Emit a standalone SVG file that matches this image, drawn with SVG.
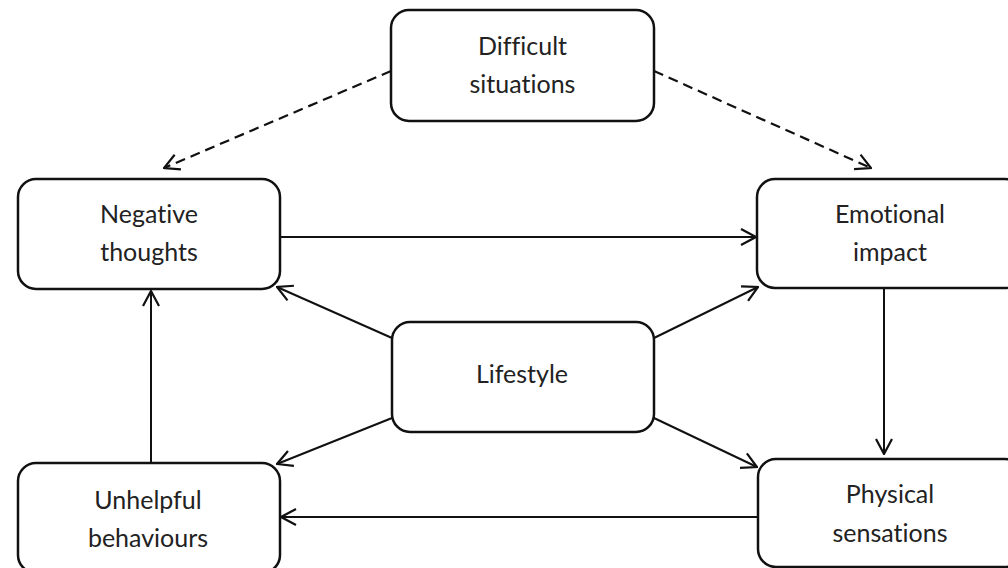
<svg xmlns="http://www.w3.org/2000/svg" width="1008" height="568" viewBox="0 0 1008 568">
<style>
.box{fill:#fff;stroke:#111;stroke-width:2.5}
.lbl{font-family:Lato,"Liberation Sans",sans-serif;font-size:25px;fill:#222;text-anchor:middle;font-variant-ligatures:none;font-feature-settings:"liga" 0,"dlig" 0}
.edge{stroke:#111;stroke-width:2;fill:none;marker-end:url(#ah)}
.dash{stroke-dasharray:10 6;stroke-width:2.2}
</style>
<defs>
<marker id="ah" viewBox="0 0 20 20" refX="19" refY="10" markerWidth="20" markerHeight="20" markerUnits="userSpaceOnUse" orient="auto">
<path d="M4,2 L19,10 L4,18" fill="none" stroke="#111" stroke-width="2.2"/>
</marker>
</defs>
<rect width="1008" height="568" fill="#fff"/>
<g id="connectors">
<line class="edge dash" x1="391" y1="71" x2="164" y2="168"/>
<line class="edge dash" x1="654" y1="71" x2="871" y2="168"/>
<line class="edge" x1="280" y1="237" x2="756" y2="237"/>
<line class="edge" x1="392" y1="338" x2="277" y2="287"/>
<line class="edge" x1="654" y1="338" x2="758" y2="287"/>
<line class="edge" x1="392" y1="418" x2="277" y2="464"/>
<line class="edge" x1="654" y1="418" x2="757" y2="467"/>
<line class="edge" x1="884" y1="288" x2="884" y2="454"/>
<line class="edge" x1="758" y1="517" x2="281" y2="517"/>
<line class="edge" x1="151" y1="463" x2="151" y2="291"/>
</g>
<g id="difficult">
<rect class="box" x="391" y="10" width="263" height="111" rx="18"/>
<text class="lbl" x="522.5" y="55">Difficult</text>
<text class="lbl" x="522.5" y="93">situations</text>
</g>
<g id="negative">
<rect class="box" x="18" y="179" width="262" height="110" rx="18"/>
<text class="lbl" x="149" y="223">Negative</text>
<text class="lbl" x="149" y="261">thoughts</text>
</g>
<g id="emotional">
<rect class="box" x="757" y="179" width="266" height="109" rx="18"/>
<text class="lbl" x="890" y="223">Emotional</text>
<text class="lbl" x="890" y="261">impact</text>
</g>
<g id="lifestyle">
<rect class="box" x="392" y="322" width="262" height="110" rx="18"/>
<text class="lbl" x="522" y="383">Lifestyle</text>
</g>
<g id="unhelpful">
<rect class="box" x="18" y="463" width="262" height="110" rx="18"/>
<text class="lbl" x="148" y="509">Unhelpful</text>
<text class="lbl" x="148" y="547">behaviours</text>
</g>
<g id="physical">
<rect class="box" x="758" y="459" width="265" height="108" rx="18"/>
<text class="lbl" x="890" y="503">Physical</text>
<text class="lbl" x="890" y="542">sensations</text>
</g>
</svg>
